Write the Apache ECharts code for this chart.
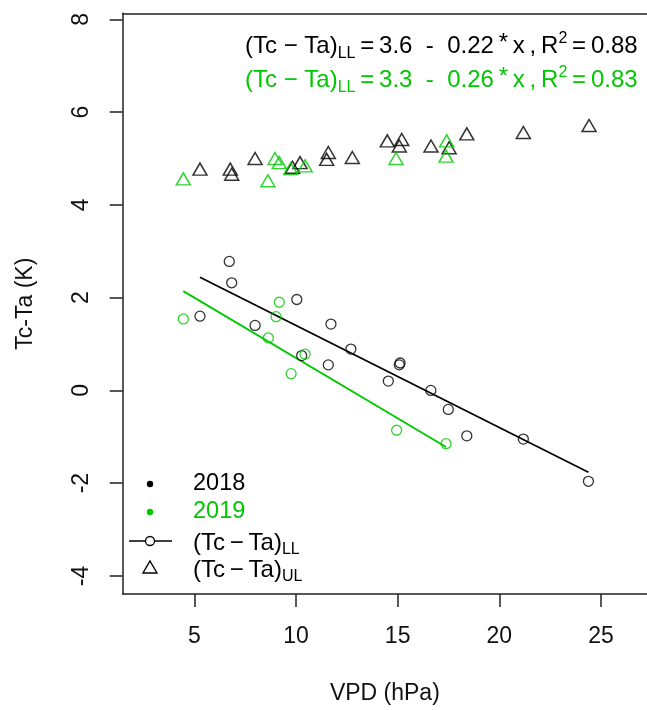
<!DOCTYPE html>
<html>
<head>
<meta charset="utf-8">
<script src="https://cdn.jsdelivr.net/npm/echarts@6/dist/echarts.min.js"></script>
<style>html,body{margin:0;padding:0;background:#fff;}#c{width:647px;height:710px;}</style>
</head>
<body>
<div id="c"></div>
<script>
// ---- data ----
const xTicks = [5, 10, 15, 20, 25];
const yTicks = [-4, -2, 0, 2, 4, 6, 8];

const ll2018X = [5.28, 6.72, 6.84, 7.99, 10.04, 10.28, 11.59, 11.72, 12.70, 14.54, 15.08, 15.12, 16.63, 17.49, 18.40, 21.18, 24.38];
const ll2018Y = [1.60, 2.78, 2.32, 1.40, 1.96, 0.75, 0.55, 1.43, 0.89, 0.20, 0.55, 0.59, 0.00, -0.41, -0.98, -1.05, -1.96];

const ul2018X = [5.28, 6.77, 6.84, 7.99, 9.83, 10.20, 11.51, 11.59, 12.77, 14.49, 15.08, 15.20, 16.64, 17.53, 18.40, 21.18, 24.41];
const ul2018Y = [4.77, 4.77, 4.66, 5.00, 4.81, 4.91, 4.98, 5.13, 5.02, 5.38, 5.27, 5.41, 5.27, 5.23, 5.53, 5.56, 5.71];

const ll2019X = [4.46, 8.64, 9.02, 9.18, 9.76, 10.45, 14.95, 17.38];
const ll2019Y = [1.54, 1.13, 1.59, 1.90, 0.36, 0.78, -0.86, -1.15];

const ul2019X = [4.46, 8.62, 8.97, 9.18, 9.74, 10.45, 14.92, 17.38, 17.41];
const ul2019Y = [4.56, 4.52, 5.00, 4.91, 4.78, 4.84, 5.00, 5.05, 5.38];

const fit2018 = [3.6, -0.22, 0.88];   // intercept, slope, R2
const fit2019 = [3.3, -0.26, 0.83];

const years = ['2018', '2019'];
// ---- end data ----

const BLACK = '#000000';
const GREEN = '#00C800';
const AXC = '#222222';
const FONT = 'Liberation Sans, Arial, sans-serif';
const XMIN = 1.48, XMAX = 27.26, YMIN = -4.39, YMAX = 8.13;

function pairs(xs, ys) { return xs.map((x, i) => [x, ys[i]]); }
function fitLine(xs, fit) {
  const lo = Math.min.apply(null, xs), hi = Math.max.apply(null, xs);
  return [[lo, fit[0] + fit[1] * lo], [hi, fit[0] + fit[1] * hi]];
}

const circleStyle = c => ({ color: 'rgba(0,0,0,0)', borderColor: c, borderWidth: 1.3 });
const triStyle = c => ({ color: 'rgba(0,0,0,0)', borderColor: c, borderWidth: 1.5 });

function eqRich(color) {
  return {
    n: { fontSize: 24, fontFamily: FONT, color: color },
    s: { fontSize: 16, fontFamily: FONT, color: color, padding: [14, 0, 0, 0] },
    p: { fontSize: 16, fontFamily: FONT, color: color, padding: [0, 0, 15, 0] },
    a: { fontSize: 24, fontFamily: FONT, color: color, padding: [0, 0, 6, 0] }
  };
}
function eqText(fit) {
  return '{n|(Tc \u2212 Ta)}{s|LL}{n|\u2009=\u2009' + fit[0].toFixed(1) + '  -  ' +
    Math.abs(fit[1]).toFixed(2) + '\u2009}{a|*}{n|\u2009x\u2009,\u2009R}{p|2}{n|\u2009=\u2009' + fit[2].toFixed(2) + '}';
}
const legRich = {
  n: { fontSize: 24, fontFamily: FONT, color: BLACK },
  s: { fontSize: 16, fontFamily: FONT, color: BLACK, padding: [14, 0, 0, 0] }
};

const chart = echarts.init(document.getElementById('c'), null, { renderer: 'canvas' });
chart.setOption({
  animation: false,
  backgroundColor: '#ffffff',
  grid: { left: 122.7, right: 0, top: 13.3, bottom: 112.5, show: false },
  xAxis: [{
    type: 'value', min: XMIN, max: XMAX,
    name: 'VPD (hPa)', nameLocation: 'middle', nameGap: 88,
    nameTextStyle: { fontSize: 23, fontFamily: FONT, color: '#111' },
    axisLine: { show: true, onZero: false, lineStyle: { color: AXC, width: 1.5 } },
    axisTick: { show: true, inside: false, length: 13, customValues: xTicks, lineStyle: { color: AXC, width: 1.5 } },
    axisLabel: { show: true, margin: 31, customValues: xTicks, fontSize: 23, fontFamily: FONT, color: '#111' },
    splitLine: { show: false }
  }, {
    type: 'value', position: 'top', min: XMIN, max: XMAX,
    axisLine: { show: true, onZero: false, lineStyle: { color: AXC, width: 1.5 } },
    axisTick: { show: false }, axisLabel: { show: false }, splitLine: { show: false }
  }],
  yAxis: {
    type: 'value', min: YMIN, max: YMAX,
    name: 'Tc-Ta (K)', nameLocation: 'middle', nameGap: 86, nameRotate: 90,
    nameTextStyle: { fontSize: 23, fontFamily: FONT, color: '#111' },
    axisLine: { show: true, onZero: false, lineStyle: { color: AXC, width: 1.5 } },
    axisTick: { show: true, inside: false, length: 13, customValues: yTicks, lineStyle: { color: AXC, width: 1.5 } },
    axisLabel: { show: true, margin: 30, rotate: 90, customValues: yTicks, fontSize: 23, fontFamily: FONT, color: '#111' },
    splitLine: { show: false }
  },
  series: [
    { name: years[0] + ' LL', type: 'scatter', symbol: 'circle', symbolSize: 10, data: pairs(ll2018X, ll2018Y), itemStyle: circleStyle(BLACK), z: 3 },
    { name: years[0] + ' UL', type: 'scatter', symbol: 'triangle', symbolSize: [14, 12], data: pairs(ul2018X, ul2018Y), itemStyle: triStyle(BLACK), z: 3 },
    { name: years[1] + ' LL', type: 'scatter', symbol: 'circle', symbolSize: 10, data: pairs(ll2019X, ll2019Y), itemStyle: circleStyle(GREEN), z: 4 },
    { name: years[1] + ' UL', type: 'scatter', symbol: 'triangle', symbolSize: [14, 12], data: pairs(ul2019X, ul2019Y), itemStyle: triStyle(GREEN), z: 4 },
    { name: years[0] + ' fit', type: 'line', data: fitLine(ll2018X, fit2018), symbol: 'none', lineStyle: { color: BLACK, width: 1.8 }, z: 2 },
    { name: years[1] + ' fit', type: 'line', data: fitLine(ll2019X, fit2019), symbol: 'none', lineStyle: { color: GREEN, width: 1.8 }, z: 2 }
  ],
  graphic: [
    { type: 'text', left: 245, top: 31, style: { text: eqText(fit2018), rich: eqRich(BLACK), fill: BLACK } },
    { type: 'text', left: 245, top: 65, style: { text: eqText(fit2019), rich: eqRich(GREEN), fill: GREEN } },
    // legend
    { type: 'circle', shape: { cx: 150, cy: 484, r: 3.2 }, style: { fill: BLACK } },
    { type: 'text', x: 193, y: 484, style: { text: years[0], font: '23.5px ' + FONT, fill: BLACK, verticalAlign: 'middle' } },
    { type: 'circle', shape: { cx: 150, cy: 512, r: 3.2 }, style: { fill: GREEN } },
    { type: 'text', x: 193, y: 512, style: { text: years[1], font: '23.5px ' + FONT, fill: GREEN, verticalAlign: 'middle' } },
    { type: 'line', shape: { x1: 129, y1: 541, x2: 172, y2: 541 }, style: { stroke: BLACK, lineWidth: 1.5 } },
    { type: 'circle', shape: { cx: 150, cy: 541, r: 4.5 }, style: { fill: '#fff', stroke: BLACK, lineWidth: 1.3 } },
    { type: 'text', x: 193, y: 528, style: { text: '{n|(Tc\u2009\u2212\u2009Ta)}{s|LL}', rich: legRich } },
    { type: 'polygon', shape: { points: [[150, 561], [157, 573], [143, 573]] }, style: { fill: 'none', stroke: BLACK, lineWidth: 1.4 } },
    { type: 'text', x: 193, y: 555, style: { text: '{n|(Tc\u2009\u2212\u2009Ta)}{s|UL}', rich: legRich } }
  ]
});
</script>
</body>
</html>
